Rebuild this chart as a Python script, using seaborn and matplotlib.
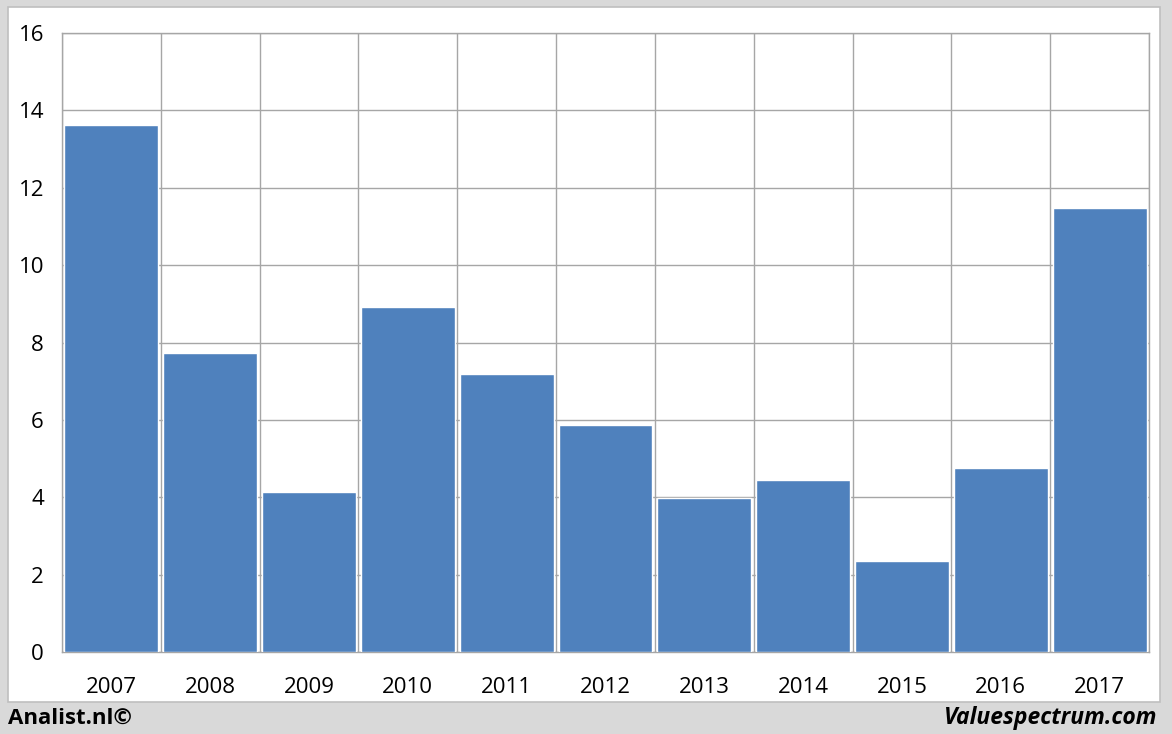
import matplotlib
matplotlib.use("Agg")
import matplotlib.pyplot as plt
import seaborn as sns
import pandas as pd
import numpy as np
from matplotlib.patches import Rectangle

years = ["2007", "2008", "2009", "2010", "2011", "2012", "2013", "2014", "2015", "2016", "2017"]
values = [13.62, 7.73, 4.14, 8.92, 7.19, 5.87, 3.98, 4.45, 2.35, 4.76, 11.48]
yticks = [0, 2, 4, 6, 8, 10, 12, 14, 16]

sns.set_theme(style="white")
plt.rcParams['font.family'] = ['Open Sans', 'DejaVu Sans']
plt.rcParams['text.color'] = 'black'

fig = plt.figure(figsize=(11.72, 7.34), dpi=100)
fig.patch.set_facecolor("#d9d9d9")
fig.patches.append(Rectangle((0.0068, 0.0436), 0.983, 0.947, transform=fig.transFigure,
                             facecolor="white", edgecolor="#bfbfbf", linewidth=1.2, zorder=-5))

ax = fig.add_axes([0.0529, 0.1117, 0.9275, 0.8433])
ax.patch.set_alpha(0)
df = pd.DataFrame({"year": years, "value": values})
sns.barplot(data=df, x="year", y="value", color="#4f81bd", saturation=1, width=0.95, ax=ax, zorder=3)

ax.set_xlim(-0.5, len(years) - 0.5)
ax.set_ylim(0, 16)
ax.set_yticks(yticks)
ax.set_yticklabels([str(t) for t in yticks], fontsize=16)
ax.set_xticks(range(len(years)))
ax.set_xticklabels(years, fontsize=16)
ax.set_xticks(np.arange(-0.5, len(years), 1), minor=True)
ax.tick_params(axis="x", which="major", length=0, pad=18, labelcolor="black")
ax.tick_params(axis="x", which="minor", length=8, width=1, color="#a0a0a0")
ax.tick_params(axis="y", which="major", length=8, width=1, color="#a0a0a0", pad=5, labelcolor="black")
ax.grid(True, axis="y", which="major", color="#a6a6a6", linewidth=1)
ax.grid(True, axis="x", which="minor", color="#a6a6a6", linewidth=1)
ax.grid(False, axis="x", which="major")
ax.set_axisbelow(True)
for s in ax.spines.values():
    s.set_visible(True)
    s.set_color("#a6a6a6")
    s.set_linewidth(1)
ax.set_xlabel("")
ax.set_ylabel("")

fig.text(0.007, 0.022, "Analist.nl©", fontsize=16, fontweight="bold", ha="left", va="center", color="black")
fig.text(0.988, 0.022, "Valuespectrum.com", fontsize=16.5, fontweight="bold", style="italic",
         ha="right", va="center", color="black")

fig.savefig("out.png", dpi=100, facecolor=fig.get_facecolor())
